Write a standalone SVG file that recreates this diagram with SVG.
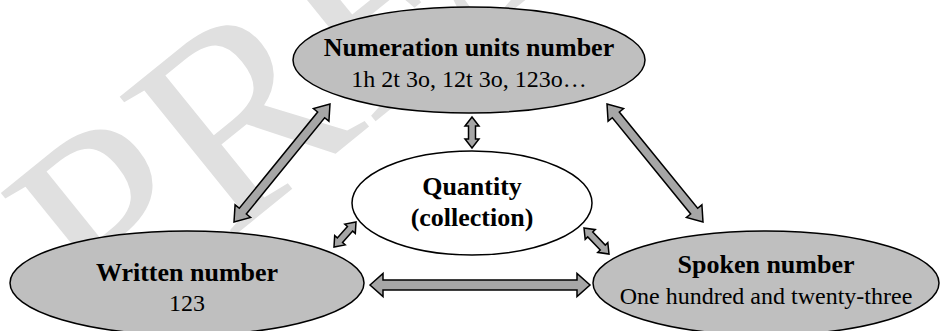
<svg xmlns="http://www.w3.org/2000/svg" width="940" height="331" viewBox="0 0 940 331">
<style>
.wm{font-family:"Liberation Serif","Times New Roman",serif;font-size:275px;fill:#e0e0e0}
.node ellipse{fill:#bfbfbf;stroke:#000;stroke-width:1.5}
#quantity ellipse{fill:#fff}
.t{font-family:"Liberation Serif","Times New Roman",serif;font-weight:bold;font-size:26px;text-anchor:middle;fill:#000}
.s{font-family:"Liberation Serif","Times New Roman",serif;font-size:24px;text-anchor:middle;fill:#000}
.arr{fill:#a6a6a6;stroke:#000;stroke-width:1.5;stroke-linejoin:miter}
</style>
<rect width="940" height="331" fill="#fff"/>
<text class="wm" transform="translate(108,338) rotate(-39)">PREPRINT</text>
<g id="connectors">
<polygon class="arr" transform="translate(234,222) rotate(-50.87)" points="0,0 14,-10 14,-4.5 138.1,-4.5 138.1,-10 152.1,0 138.1,10 138.1,4.5 14,4.5 14,10"/>
<polygon class="arr" transform="translate(607,104) rotate(50.87)" points="0,0 14,-10 14,-4.5 138.1,-4.5 138.1,-10 152.1,0 138.1,10 138.1,4.5 14,4.5 14,10"/>
<polygon class="arr" transform="translate(472,117) rotate(90)" points="0,0 9,-7 9,-3.5 22,-3.5 22,-7 31,0 22,7 22,3.5 9,3.5 9,7"/>
<polygon class="arr" transform="translate(334,247) rotate(-48.65)" points="0,0 9,-7 9,-3.5 24.3,-3.5 24.3,-7 33.3,0 24.3,7 24.3,3.5 9,3.5 9,7"/>
<polygon class="arr" transform="translate(584,228) rotate(46.12)" points="0,0 9,-7 9,-3.5 27.07,-3.5 27.07,-7 36.07,0 27.07,7 27.07,3.5 9,3.5 9,7"/>
<polygon class="arr" points="370,285 383,273.5 383,280 577,280 577,273.5 590,285 577,296.5 577,290 383,290 383,296.5"/>
</g>
<g id="numeration" class="node">
<ellipse cx="469" cy="60" rx="176" ry="53"/>
<text class="t" x="469" y="56">Numeration units number</text>
<text class="s" x="469" y="87">1h 2t 3o, 12t 3o, 123o…</text>
</g>
<g id="quantity" class="node">
<ellipse cx="472" cy="203" rx="120" ry="52"/>
<text class="t" x="472" y="195">Quantity</text>
<text class="t" x="472" y="226">(collection)</text>
</g>
<g id="written" class="node">
<ellipse cx="187" cy="283" rx="177" ry="52"/>
<text class="t" x="187" y="281">Written number</text>
<text class="s" x="187" y="311">123</text>
</g>
<g id="spoken" class="node">
<ellipse cx="766" cy="283" rx="173" ry="52"/>
<text class="t" x="766" y="273">Spoken number</text>
<text class="s" x="766" y="304">One hundred and twenty-three</text>
</g>
</svg>
